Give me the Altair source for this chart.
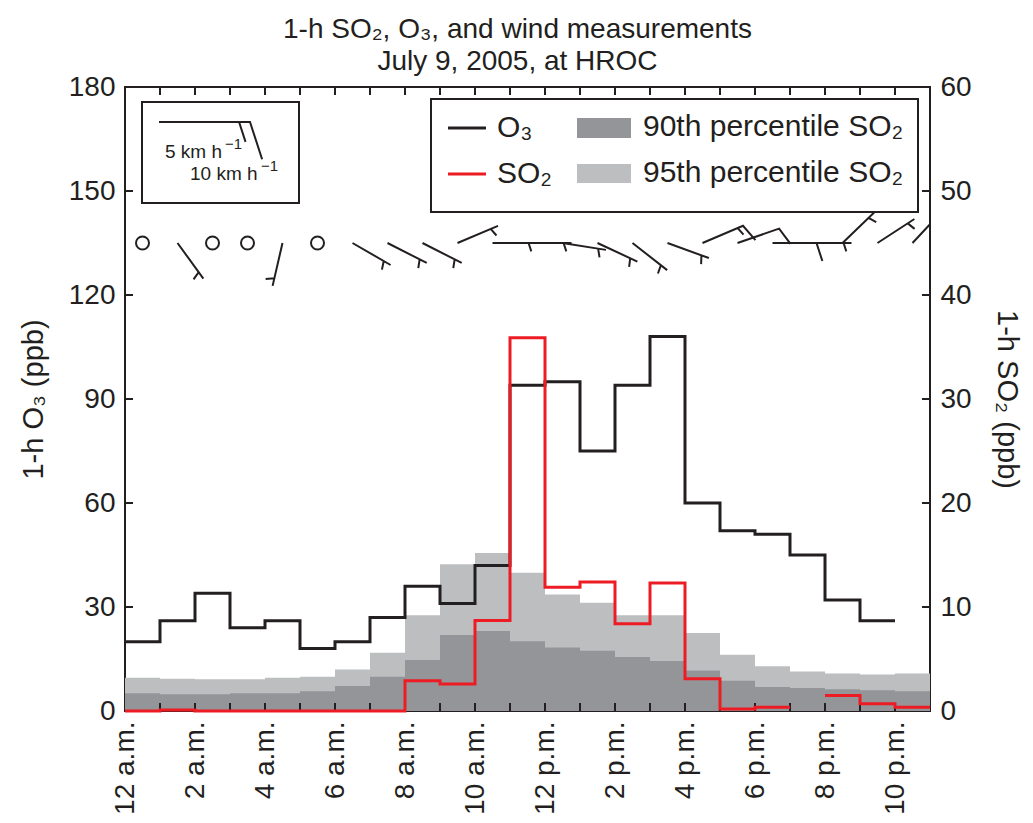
import json
import altair as alt
import pandas as pd

FONT = "Liberation Sans"
BLACK = "#231f20"
RED = "#ed1c24"
DARK = "#939598"
LIGHT = "#bcbec0"

# ---------------- data (hourly, hour 0 = 12 a.m.) ----------------
o3_ppb = [20, 26, 34, 24, 26, 18, 20, 27, 36, 31, 42, 94, 95, 75, 94, 108,
          60, 52, 51, 45, 32, 26]
so2_ppb = [0, 0.1, 0, 0, 0, 0, 0, 0, 2.9, 2.6, 8.7, 35.9, 11.9, 12.4, 8.4,
           12.3, 3.1, 0.2, 0.35, None, 1.5, 0.7, 0.35]
so2_p95 = [3.2, 3.1, 3.05, 3.05, 3.2, 3.3, 4.0, 5.6, 9.2, 14.1, 15.2, 13.3,
           11.2, 10.4, 9.2, 9.2, 7.5, 5.4, 4.3, 3.8, 3.6, 3.5, 3.6]
so2_p90 = [1.7, 1.6, 1.6, 1.7, 1.7, 1.9, 2.4, 3.3, 4.9, 7.3, 7.7, 6.7, 6.1,
           5.8, 5.2, 4.8, 3.9, 2.9, 2.3, 2.2, 2.1, 2.0, 1.9]
# wind direction (degrees, direction the barb shaft points, clockwise from up)
wind_dir_deg = [None, 144, None, None, 193, None, 120, 117, 117, 67, 90, 90,
                99, 115, 128, 110, 67, 71, 90, 90, 46, 57, 43]
wind_speed_kmh = [0, 5, 0, 0, 5, 0, 5, 5, 5, 5, 5, 5, 5, 5, 5, 5, 15, 10, 10,
                  5, 5, 5, 5]
wind_level_ppb = 135

x_label_hours = [0, 2, 4, 6, 8, 10, 12, 14, 16, 18, 20, 22]
x_tick_labels = ["12 a.m.", "2 a.m.", "4 a.m.", "6 a.m.", "8 a.m.", "10 a.m.",
                 "12 p.m.", "2 p.m.", "4 p.m.", "6 p.m.", "8 p.m.", "10 p.m."]
o3_axis_ticks = [0, 30, 60, 90, 120, 150, 180]
so2_axis_ticks = [0, 10, 20, 30, 40, 50, 60]
hour_ticks = list(range(1, 23))

title_lines = ["1-h SO₂, O₃, and wind measurements", "July 9, 2005, at HROC"]

# ---------------- helpers ----------------
W, H = 805, 624


def step_rows(vals):
    rows, seg, prev = [], 0, None
    for i, v in enumerate(vals):
        if v is None:
            if prev is not None:
                rows.append({"h": i, "v": prev, "seg": seg})
                seg += 1
            prev = None
            continue
        rows.append({"h": i, "v": v, "seg": seg})
        prev = v
    if prev is not None:
        rows.append({"h": len(vals), "v": prev, "seg": seg})
    return pd.DataFrame(rows)


df_o3 = step_rows(o3_ppb)
df_so2 = step_rows(so2_ppb)
df_p95 = step_rows(so2_p95)
df_p90 = step_rows(so2_p90)

barb_rows, calm_rows = [], []
for i, (d, s) in enumerate(zip(wind_dir_deg, wind_speed_kmh)):
    if s == 0:
        calm_rows.append({"h": i + 0.5, "v": wind_level_ppb})
    else:
        barb_rows.append({"h": i + 0.5, "v": wind_level_ppb, "dir": d,
                          "spd": str(s)})
df_barb = pd.DataFrame(barb_rows)
df_calm = pd.DataFrame(calm_rows)

# barb glyphs (unit = shaft length), feathers at the far end
P5 = "M0,0L0,-1M0,-0.82L0.19,-0.882"
P10 = "M0,0L0,-1L0.409,-1.133"
P15 = "M0,0L0,-1L0.409,-1.133M0,-0.87L0.19,-0.932"
PLEG = "M0,0L0,-1L0.409,-1.133M0,-0.88L0.219,-0.951"

# ---------------- scales / axes ----------------
xs = alt.Scale(domain=[0, 23], nice=False, zero=False)
label_expr = json.dumps(x_tick_labels) + "[round(datum.value / 2)]"
x_axis = alt.Axis(values=x_label_hours, labelExpr=label_expr, labelAngle=-90,
                  labelPadding=10, labelFlush=False, labelOverlap=False,
                  title=None)
X = alt.X("h:Q", scale=xs, axis=x_axis)

ys_l = alt.Scale(domain=[0, 180], nice=False, zero=True)
ys_r = alt.Scale(domain=[0, 60], nice=False, zero=True)
left_axis = alt.Axis(values=o3_axis_ticks, orient="left", title="1-h O₃ (ppb)",
                     labelPadding=10, titlePadding=20, labelFlush=False)
right_axis = alt.Axis(values=so2_axis_ticks, orient="right",
                      title="1-h SO₂ (ppb)", labelPadding=10, titlePadding=20,
                      labelFlush=False)
YL = alt.Y("v:Q", scale=ys_l, axis=left_axis, stack=None)
YR = alt.Y("v:Q", scale=ys_r, axis=right_axis, stack=None)
YR0 = alt.Y("v:Q", scale=ys_r, axis=None, stack=None)

one = pd.DataFrame({"k": [0]})

# ---------------- right (SO2 percentile) group ----------------
area95 = alt.Chart(df_p95).mark_area(interpolate="step-after", color=LIGHT,
                                     opacity=1).encode(x=X, y=YR)
area90 = alt.Chart(df_p90).mark_area(interpolate="step-after", color=DARK,
                                     opacity=1).encode(x=X, y=YR)
rticks = alt.Chart(pd.DataFrame({"v": so2_axis_ticks[1:-1]})).mark_rule(
    color=BLACK, strokeWidth=2).encode(y=YR, x=alt.value(W), x2=alt.value(W - 8))
right_group = alt.layer(area95, area90, rticks)

# ---------------- left (O3 + wind) group ----------------
o3_line = alt.Chart(df_o3).mark_line(
    interpolate="step-after", color=BLACK, strokeWidth=3).encode(
    x=X, y=YL, detail="seg:N")
barbs = alt.Chart(df_barb).mark_point(
    filled=False, color=BLACK, strokeWidth=2, opacity=1, clip=True).encode(
    x=X, y=YL,
    angle=alt.Angle("dir:Q", scale=None),
    shape=alt.Shape("spd:N", scale=alt.Scale(domain=["5", "10", "15"],
                                              range=[P5, P10, P15]),
                    legend=None),
    size=alt.value(7744))
calm = alt.Chart(df_calm).mark_point(
    shape="circle", filled=False, color=BLACK, strokeWidth=2, opacity=1,
    size=169).encode(x=X, y=YL)
lticks = alt.Chart(pd.DataFrame({"v": o3_axis_ticks[1:-1]})).mark_rule(
    color=BLACK, strokeWidth=2).encode(y=YL, x=alt.value(0), x2=alt.value(8))
df_ht = pd.DataFrame({"h": hour_ticks})
bticks = alt.Chart(df_ht).mark_rule(color=BLACK, strokeWidth=2).encode(
    x=X, y=alt.value(H), y2=alt.value(H - 8))
tticks = alt.Chart(df_ht).mark_rule(color=BLACK, strokeWidth=2).encode(
    x=X, y=alt.value(0), y2=alt.value(8))
left_group = alt.layer(o3_line, barbs, calm, lticks, bticks, tticks)

# ---------------- SO2 line + legends ----------------
so2_line = alt.Chart(df_so2).mark_line(
    interpolate="step-after", color=RED, strokeWidth=3).encode(
    x=X, y=YR0, detail="seg:N")


def box(x1, x2, y1, y2):
    return alt.Chart(one).mark_rect(fill="white", stroke=BLACK,
                                    strokeWidth=2).encode(
        x=alt.value(x1), x2=alt.value(x2), y=alt.value(y1), y2=alt.value(y2))


def txt(s, x, y, size, align="left"):
    return alt.Chart(one).mark_text(
        text=s, align=align, baseline="alphabetic", font=FONT, fontSize=size,
        color=BLACK).encode(x=alt.value(x), y=alt.value(y))


def swatch(color, x1, x2, y1, y2):
    return alt.Chart(one).mark_rect(color=color).encode(
        x=alt.value(x1), x2=alt.value(x2), y=alt.value(y1), y2=alt.value(y2))


def sample(color, x1, x2, y):
    return alt.Chart(one).mark_rule(color=color, strokeWidth=3).encode(
        x=alt.value(x1), x2=alt.value(x2), y=alt.value(y))


legend_layers = [
    box(306, 793, 12, 125),
    sample(BLACK, 323, 361, 41),
    txt("O₃", 372, 50, 30),
    sample(RED, 323, 361, 87),
    txt("SO₂", 372, 96, 30),
    swatch(DARK, 452, 506, 31, 51),
    txt("90th percentile SO₂", 518, 49, 30),
    swatch(LIGHT, 452, 506, 77, 96),
    txt("95th percentile SO₂", 518, 95, 30),
    box(17, 174, 15, 116),
    alt.Chart(one).mark_point(shape=PLEG, angle=90, size=182 * 182,
                              filled=False, color=BLACK, strokeWidth=2,
                              opacity=1).encode(x=alt.value(34),
                                                y=alt.value(35)),
    txt("5 km h", 40, 71, 19),
    txt("−1", 100, 62, 15),
    txt("10 km h", 65, 93, 19),
    txt("−1", 136, 84, 15),
]
top_group = alt.layer(so2_line, *legend_layers)

chart = alt.layer(right_group, left_group, top_group).resolve_scale(
    y="independent"
).properties(
    width=W, height=H,
    padding={"left": 125, "top": 87, "right": 103, "bottom": 112},
    autosize="none",
    title=alt.TitleParams(text=title_lines, fontSize=28, fontWeight="normal",
                          font=FONT, color=BLACK, lineHeight=32,
                          anchor="middle", offset=0, dy=3, dx=-10),
).configure(font=FONT).configure_axis(
    labelFont=FONT, titleFont=FONT, labelFontSize=28, titleFontSize=29,
    titleFontWeight="normal", labelColor=BLACK, titleColor=BLACK,
    grid=False, ticks=False, domain=False,
).configure_view(stroke=BLACK, strokeWidth=2)

chart.save("out.html", embed_options={"renderer": "svg", "actions": False})
